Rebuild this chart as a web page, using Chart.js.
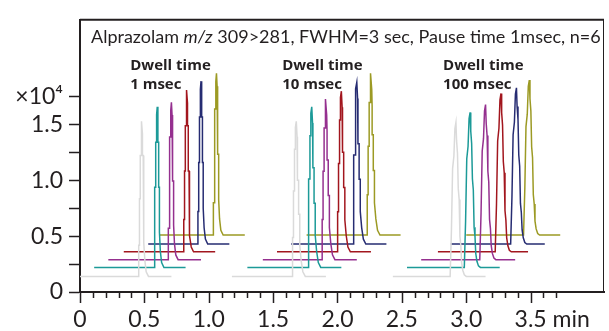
<!DOCTYPE html>
<html>
<head>
<meta charset="utf-8">
<script src="https://cdn.jsdelivr.net/npm/chart.js@4"></script>
<style>
  html, body { margin: 0; padding: 0; background: #ffffff; }
  #chromCanvas { display: block; }
</style>
</head>
<body>
<canvas id="chromCanvas" width="609" height="331"></canvas>
<script>
// Values: x in min, y in x10^4 counts

const traceColors = ['#dadada', '#1c9a98', '#95308f', '#a2161e', '#262c72', '#9c9a24'];
const baseLevels = [0.14, 0.22, 0.29, 0.36, 0.43, 0.51];

// Dwell time 1 msec
const g1Start = [0.00, 0.11, 0.22, 0.34, 0.53, 0.62];
const g1End   = [0.71, 0.82, 0.94, 1.05, 1.16, 1.28];
const g1Apex  = [0.48, 0.60, 0.71, 0.83, 0.94, 1.06];
const g1Top   = [1.53, 1.66, 1.70, 1.81, 1.89, 1.96];

// Dwell time 10 msec
const g2Start = [1.18, 1.30, 1.42, 1.53, 1.64, 1.76];
const g2End   = [1.91, 2.03, 2.15, 2.26, 2.38, 2.49];
const g2Apex  = [1.68, 1.80, 1.91, 2.03, 2.15, 2.26];
const g2Top   = [1.53, 1.66, 1.73, 1.80, 1.88, 1.96];

// Dwell time 100 msec
const g3Start = [2.43, 2.54, 2.65, 2.78, 2.88, 3.00];
const g3End   = [3.15, 3.26, 3.38, 3.48, 3.61, 3.73];
const g3Apex  = [2.92, 3.03, 3.15, 3.27, 3.39, 3.49];
const g3Top   = [1.52, 1.61, 1.68, 1.78, 1.83, 1.90];

// peak outlines (offset from apex in min, fraction of peak height)
const shape1Dx   = [-0.024, -0.024, -0.018, -0.018, -0.012, -0.012, -0.005, -0.005, 0, 0.005, 0.005, 0.011, 0.011, 0.017, 0.017, 0.024, 0.034, 0.052];
const shape1Frac = [0, 0.2, 0.2, 0.5, 0.5, 0.78, 0.78, 0.95, 1, 0.92, 0.78, 0.78, 0.5, 0.5, 0.22, 0.1, 0.03, 0];
const shape2Dx   = [-0.029, -0.029, -0.022, -0.022, -0.014, -0.014, -0.007, -0.007, 0, 0.006, 0.009, 0.009, 0.018, 0.018, 0.027, 0.027, 0.038, 0.051, 0.07];
const shape2Frac = [0, 0.25, 0.25, 0.55, 0.55, 0.82, 0.82, 0.96, 1, 0.9, 0.8, 0.62, 0.62, 0.4, 0.4, 0.2, 0.1, 0.03, 0];
const shape3Dx   = [-0.045, -0.035, -0.026, -0.016, -0.008, 0, 0.005, 0.012, 0.018, 0.025, 0.031, 0.038, 0.044, 0.053, 0.065, 0.08];
const shape3Frac = [0, 0.3, 0.7, 0.78, 0.96, 1, 0.88, 0.8, 0.57, 0.5, 0.26, 0.2, 0.09, 0.04, 0.01, 0];

const dwellLabels = ['1 msec', '10 msec', '100 msec'];
const dwellX = [0.39, 1.57, 2.82];

const yTickLabels = { 0: '0', 0.5: '0.5', 1: '1.0', 1.5: '1.5', 1.75: '\u00d710\u2074' };
const xTickLabels = { 0: '0', 0.5: '0.5', 1: '1.0', 1.5: '1.5', 2: '2.0', 2.5: '2.5', 3: '3.0', 3.5: '3.5' };

const inkColor = '#231f20';
const fontName = 'Lato, "Open Sans", sans-serif';

function buildTrace(start, end, apex, top, base, dxs, fracs) {
    const pts = [{ x: start, y: base }];
    dxs.forEach((dx, i) => {
        pts.push({ x: apex + dx, y: base + fracs[i] * (top - base) });
    });
    pts.push({ x: end, y: base });
    return pts;
}

const datasets = [];
const groups = [
    [g1Start, g1End, g1Apex, g1Top, shape1Dx, shape1Frac],
    [g2Start, g2End, g2Apex, g2Top, shape2Dx, shape2Frac],
    [g3Start, g3End, g3Apex, g3Top, shape3Dx, shape3Frac]
];
groups.forEach(g => {
    for (let i = 0; i < 6; i++) {
        datasets.push({
            data: buildTrace(g[0][i], g[1][i], g[2][i], g[3][i], baseLevels[i], g[4], g[5]),
            borderColor: traceColors[i],
            borderWidth: 1.5,
            pointRadius: 0,
            fill: false,
            tension: 0
        });
    }
});

// title, dwell labels, frame and x tick marks
const decorPlugin = {
    id: 'decor',
    afterDraw(chart) {
        const ctx = chart.ctx;
        const area = chart.chartArea;
        const xs = chart.scales.x;
        const ys = chart.scales.y;
        ctx.save();

        // top and right edges of the frame
        ctx.strokeStyle = inkColor;
        ctx.lineWidth = 2;
        ctx.beginPath();
        ctx.moveTo(area.left, area.top);
        ctx.lineTo(area.right, area.top);
        ctx.stroke();
        ctx.lineWidth = 1;
        ctx.beginPath();
        ctx.moveTo(area.right - 0.5, area.top);
        ctx.lineTo(area.right - 0.5, area.bottom);
        ctx.stroke();

        // x tick marks, every 0.1 min, longer every 0.5
        ctx.lineWidth = 1.5;
        for (let k = 0; k <= 37; k++) {
            const px = Math.round(xs.getPixelForValue(k / 10)) + 0.5;
            const len = (k % 5 === 0) ? 11 : 6;
            ctx.beginPath();
            ctx.moveTo(px, area.bottom);
            ctx.lineTo(px, area.bottom + len);
            ctx.stroke();
        }

        // unit after the last label
        ctx.fillStyle = inkColor;
        ctx.font = '23px ' + fontName;
        ctx.textBaseline = 'alphabetic';
        ctx.textAlign = 'left';
        const lastX = xs.getPixelForValue(3.5) + ctx.measureText('3.5').width / 2;
        ctx.fillText(' min', lastX, 327);

        // title with italic m/z
        let tx = area.left + 11;
        const ty = area.top + 23;
        const parts = [
            ['Alprazolam ', 'normal'],
            ['m/z', 'italic'],
            [' 309>281, FWHM=3 sec, Pause time 1msec, n=6', 'normal']
        ];
        parts.forEach(p => {
            ctx.font = (p[1] === 'italic' ? 'italic ' : '') + '18px ' + fontName;
            ctx.fillText(p[0], tx, ty);
            tx += ctx.measureText(p[0]).width;
        });

        // dwell time labels
        ctx.font = 'bold 15px "Open Sans", sans-serif';
        dwellLabels.forEach((lab, i) => {
            const px = xs.getPixelForValue(dwellX[i]);
            ctx.fillText('Dwell time', px, ys.getPixelForValue(1.99));
            ctx.fillText(lab, px, ys.getPixelForValue(1.82));
        });

        ctx.restore();
    }
};

const chromCanvas = document.getElementById('chromCanvas');
const ctx1 = chromCanvas.getContext('2d');

let chromChart = new Chart(ctx1, {
    type: 'line',
    data: { datasets: datasets },
    options: {
        responsive: false,
        animation: false,
        events: [],
        layout: { padding: { top: 12, right: 5, left: 0, bottom: 0 } },
        plugins: {
            legend: { display: false },
            tooltip: { enabled: false }
        },
        scales: {
            x: {
                type: 'linear',
                min: 0,
                max: 4.07,
                afterFit(scale) { scale.height = 39; },
                afterBuildTicks(scale) {
                    scale.ticks = scale.ticks.filter(t => t.value <= 3.51);
                },
                grid: { display: false, drawTicks: true, tickLength: 11 },
                border: { display: true, color: inkColor, width: 2 },
                ticks: {
                    stepSize: 0.5,
                    autoSkip: false,
                    maxRotation: 0,
                    padding: 3,
                    color: inkColor,
                    font: { family: fontName, size: 23 },
                    callback: v => xTickLabels[v] !== undefined ? xTickLabels[v] : ''
                }
            },
            y: {
                type: 'linear',
                min: 0,
                max: 2.44,
                afterFit(scale) { scale.width = 80; },
                afterBuildTicks(scale) {
                    scale.ticks = scale.ticks.filter(t => t.value <= 1.76);
                },
                grid: {
                    drawOnChartArea: false,
                    drawTicks: true,
                    tickLength: 11,
                    tickWidth: 1.5,
                    tickColor: inkColor
                },
                border: { display: true, color: inkColor, width: 2 },
                ticks: {
                    stepSize: 0.25,
                    autoSkip: false,
                    padding: 6,
                    color: inkColor,
                    font: { family: fontName, size: 23 },
                    callback: v => yTickLabels[v] !== undefined ? yTickLabels[v] : ''
                }
            }
        }
    },
    plugins: [decorPlugin]
});
</script>
</body>
</html>
